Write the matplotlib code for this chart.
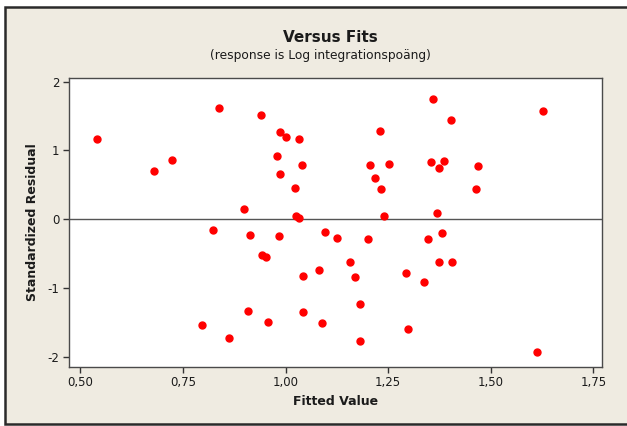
import matplotlib
matplotlib.use("Agg")
import matplotlib.pyplot as plt
from matplotlib.patches import Rectangle

# Fitted values and standardized residuals
fitted = [0.540, 0.680, 0.723, 0.837, 0.940, 0.987, 1.002, 1.033, 0.980, 1.041,
          0.987, 1.023, 0.899, 1.025, 1.033, 1.229, 1.206, 1.251, 1.219, 1.232,
          1.239, 1.359, 1.402, 1.627, 1.354, 1.386, 1.373, 1.469, 1.463, 1.368,
          0.822, 0.797, 0.861, 0.914, 0.983, 1.097, 1.125, 1.200, 0.942, 0.952,
          1.158, 1.081, 1.042, 1.170, 1.293, 1.182, 0.909, 1.042, 0.956, 1.089,
          1.182, 1.299, 1.381, 1.347, 1.375, 1.405, 1.338, 1.612]
residuals = [1.162, 0.697, 0.857, 1.613, 1.516, 1.264, 1.196, 1.162, 0.919, 0.793,
             0.662, 0.458, 0.153, 0.051, 0.017, 1.279, 0.793, 0.807, 0.599, 0.444,
             0.051, 1.753, 1.447, 1.578, 0.828, 0.847, 0.745, 0.774, 0.444, 0.090,
             -0.153, -1.543, -1.732, -0.225, -0.244, -0.186, -0.278, -0.284, -0.521, -0.554,
             -0.627, -0.743, -0.822, -0.841, -0.787, -1.238, -1.331, -1.345, -1.491, -1.510,
             -1.776, -1.597, -0.196, -0.292, -0.627, -0.627, -0.913, -1.936]

x_ticks = [0.50, 0.75, 1.00, 1.25, 1.50, 1.75]
x_tick_labels = ["0,50", "0,75", "1,00", "1,25", "1,50", "1,75"]
y_ticks = [-2, -1, 0, 1, 2]
y_tick_labels = ["-2", "-1", "0", "1", "2"]

W, H = 627, 426
BG = "#EFEBE1"
TXT = "#1b1b1b"

fig = plt.figure(figsize=(W / 100, H / 100), dpi=100, facecolor="white")

# Beige panel with a dark frame on left, top and bottom
panel = Rectangle((5 / W, 2.5 / H), 1.2, (H - 7 - 2.5) / H,
                  transform=fig.transFigure, facecolor=BG,
                  edgecolor="#2a2a2a", linewidth=1.8, zorder=-10)
fig.patches.append(panel)

ax = fig.add_axes([69.2 / W, 1 - 366.7 / H, (601.6 - 69.2) / W, (366.7 - 78.3) / H])
ax.set_zorder(5)
ax.set_facecolor("white")

ax.axhline(0, color="#555555", linewidth=1.0, zorder=1)
ax.plot(fitted, residuals, linestyle="none", marker="o", markersize=5.0,
        markerfacecolor="#FF0000", markeredgecolor="#FF0000", zorder=3)

ax.set_xlim(0.4727, 1.770)
ax.set_ylim(-2.145, 2.05)

ax.set_xticks(x_ticks)
ax.set_xticklabels(x_tick_labels)
ax.set_yticks(y_ticks)
ax.set_yticklabels(y_tick_labels)
ax.tick_params(axis="both", direction="out", length=4, width=1.0,
               color="#333333", labelsize=8.5, labelcolor=TXT, pad=3,
               top=False, right=False)

for side in ["left", "bottom", "top", "right"]:
    ax.spines[side].set_color("#4a4a4a")
    ax.spines[side].set_linewidth(1.0)

ax.set_xlabel("Fitted Value", fontsize=9, fontweight="bold", color=TXT, labelpad=4)
ax.set_ylabel("Standardized Residual", fontsize=9, fontweight="bold", color=TXT, labelpad=6)

fig.text(330 / W, 1 - 37 / H, "Versus Fits", ha="center", va="center",
         fontsize=11, fontweight="bold", color=TXT)
fig.text(320 / W, 1 - 56 / H, "(response is Log integrationspoäng)", ha="center",
         va="center", fontsize=8.8, color=TXT)

fig.savefig("out.png", dpi=100, facecolor=fig.get_facecolor())
